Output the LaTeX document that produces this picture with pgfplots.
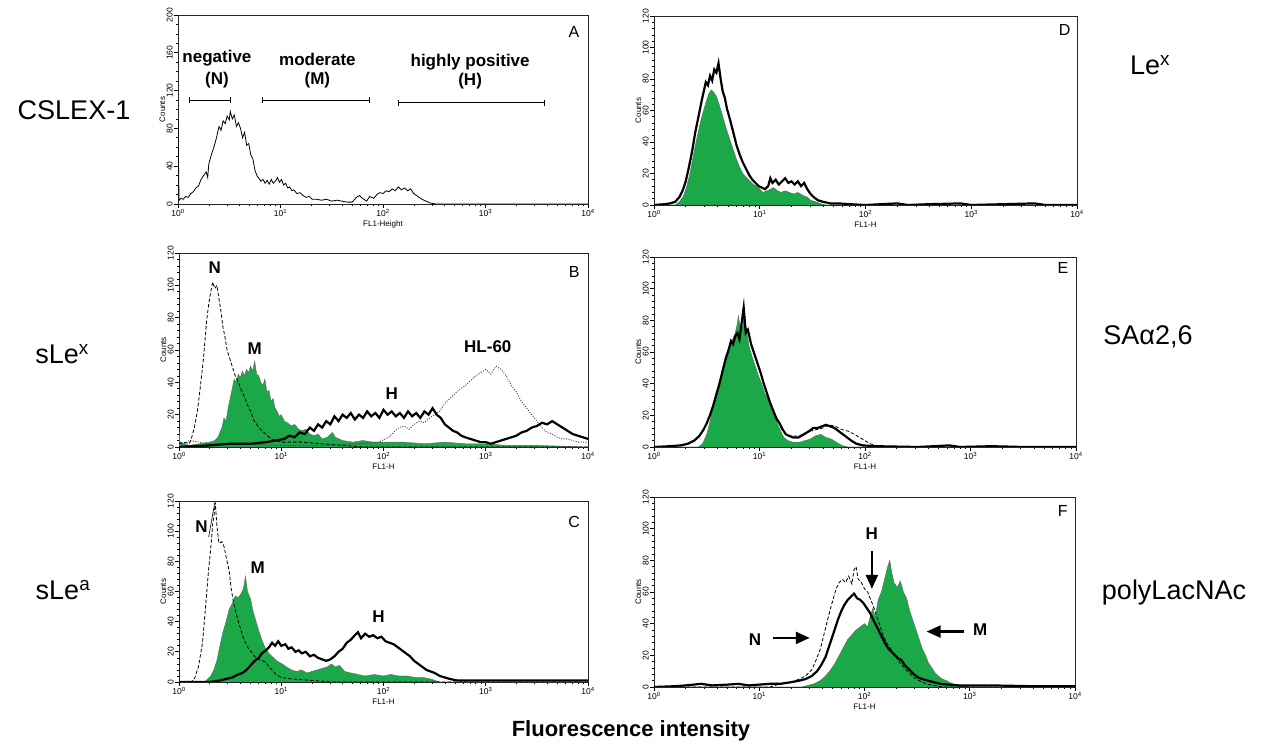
\documentclass[border=0pt]{standalone}
\usepackage{pgfplots}
\pgfplotsset{compat=1.18}
\usepackage{fontspec}
\setmainfont{Liberation Sans}
\usetikzlibrary{arrows.meta}
\definecolor{facsgreen}{RGB}{26,168,72}
\newcommand\fs[1]{\fontsize{#1}{#1}\selectfont}
\tikzset{
  ann/.style={font=\bfseries\fs{17}},
  pl/.style={font=\fs{16}},
}
\pgfplotsset{
  facs/.style={
    scale only axis, xmin=0, xmax=4, ymin=0, ymax=120,
    axis line style={black!85, line width=0.8pt},
    xtick={0,1,2,3,4},
    xticklabels={10\textsuperscript{0},10\textsuperscript{1},10\textsuperscript{2},10\textsuperscript{3},10\textsuperscript{4}},
    minor xtick={0.301,0.477,0.602,0.699,0.778,0.845,0.903,0.954,
                 1.301,1.477,1.602,1.699,1.778,1.845,1.903,1.954,
                 2.301,2.477,2.602,2.699,2.778,2.845,2.903,2.954,
                 3.301,3.477,3.602,3.699,3.778,3.845,3.903,3.954},
    ytick={0,20,...,120}, minor y tick num=4,
    tick align=outside, tick pos=left,
    major tick length=4pt, minor tick length=2pt,
    every tick/.style={black, line width=0.7pt},
    tick label style={font=\fs{8.5}, /pgf/number format/assume math mode=true},
    yticklabel style={rotate=90, anchor=south, inner sep=1pt},
    xticklabel style={inner sep=1pt},
    ylabel={Counts}, xlabel={FL1-H},
    label style={font=\fs{8}},
    ylabel style={yshift=-3pt}, xlabel style={yshift=0pt},
  },
  grn/.style={draw=black!60, line width=0.4pt, fill=facsgreen},
  thk/.style={black, line width=2.2pt},
  thn/.style={black, line width=0.8pt},
  dsh/.style={black, line width=0.8pt, dash pattern=on 3.5pt off 2pt},
  dtt/.style={black!75, line width=0.9pt, dash pattern=on 1pt off 1.5pt},
}
\begin{document}
\begin{tikzpicture}[x=1pt,y=1pt]
\path[use as bounding box] (0,0) rectangle (1268,751);

% row labels
\node[font=\fs{27}] at (74,641) {CSLEX-1};
\node[font=\fs{27}] at (62,397) {sLe\textsuperscript{x}};
\node[font=\fs{27}] at (63,161) {sLe\textsuperscript{a}};
\node[font=\fs{27}] at (1150,686) {Le\textsuperscript{x}};
\node[font=\fs{27}] at (1148,414) {SAα2,6};
\node[font=\fs{27}] at (1174,158) {polyLacNAc};
\node[font=\bfseries\fs{22}] at (631,20) {Fluorescence intensity};

% A
\begin{axis}[facs, at={(178pt,547pt)}, width=410pt, height=189pt,
  ymax=200, ytick={0,40,...,200}, minor y tick num=3, xlabel={FL1-Height}]
\addplot[thn] coordinates {
(0,88) (0.01,4) (0.03,6) (0.05,5) (0.075,8) (0.10,7) (0.125,11) (0.15,13) (0.175,17)
(0.20,19) (0.225,26) (0.25,30) (0.275,34) (0.29,28) (0.30,42) (0.325,52) (0.35,60)
(0.375,70) (0.40,82) (0.42,78) (0.44,88) (0.46,85) (0.48,93) (0.50,89) (0.51,98)
(0.53,90) (0.55,94) (0.57,82) (0.59,86) (0.61,80) (0.63,70) (0.65,76) (0.67,62)
(0.69,64) (0.71,52) (0.73,48) (0.75,36) (0.77,30) (0.79,27) (0.81,24) (0.83,26)
(0.85,22) (0.87,25) (0.89,21) (0.91,26) (0.93,22) (0.95,24) (0.97,28) (0.99,23)
(1.01,26) (1.03,20) (1.05,22) (1.07,17) (1.09,18) (1.11,14) (1.13,15) (1.16,11)
(1.19,12) (1.22,9) (1.25,7) (1.28,8) (1.31,5) (1.35,5) (1.40,4) (1.45,5) (1.50,3)
(1.55,4) (1.60,3) (1.65,2) (1.70,2) (1.74,7) (1.77,9) (1.80,6) (1.84,3) (1.87,8)
(1.91,6) (1.94,10) (1.97,12) (2.00,11) (2.03,14) (2.06,13) (2.09,16) (2.12,14)
(2.15,18) (2.18,15) (2.21,17) (2.24,14) (2.27,16) (2.30,11) (2.34,8) (2.38,5)
(2.42,3) (2.46,1) (2.52,0) (4.00,0)};
\draw[|-|, line width=0.8pt] (axis cs:0.107,110) -- (axis cs:0.517,110);
\draw[|-|, line width=0.8pt] (axis cs:0.82,110) -- (axis cs:1.87,110);
\draw[|-|, line width=0.8pt] (axis cs:2.15,107) -- (axis cs:3.58,107);
\node[ann] at (axis cs:0.38,154) {negative};
\node[ann] at (axis cs:0.38,131) {(N)};
\node[ann] at (axis cs:1.36,153) {moderate};
\node[ann] at (axis cs:1.36,131) {(M)};
\node[ann] at (axis cs:2.85,150) {highly positive};
\node[ann] at (axis cs:2.85,130) {(H)};
\node[pl] at (rel axis cs:0.966,0.91) {A};
\end{axis}

% B
\begin{axis}[facs, at={(179pt,304pt)}, width=409pt, height=194pt]
\addplot[grn] coordinates {
(0,10) (0.01,3) (0.05,2) (0.1,1) (0.2,2) (0.3,3) (0.35,4) (0.38,6) (0.40,9) (0.42,12)
(0.44,18) (0.46,16) (0.48,24) (0.50,30) (0.52,36) (0.54,42) (0.56,40) (0.58,45)
(0.60,43) (0.62,47) (0.64,44) (0.66,48) (0.68,46) (0.70,50) (0.72,47) (0.74,53)
(0.76,45) (0.78,44) (0.80,40) (0.82,38) (0.84,42) (0.86,34) (0.88,35) (0.90,28)
(0.92,30) (0.94,24) (0.96,22) (0.98,19) (1.00,20) (1.03,16) (1.06,15) (1.10,13)
(1.13,14) (1.17,11) (1.20,10) (1.24,11) (1.28,8) (1.32,7) (1.36,8) (1.40,5) (1.45,6)
(1.50,9) (1.53,6) (1.60,4) (1.70,3) (1.80,4) (1.90,3) (2.0,3) (2.2,3) (2.4,2) (2.6,3)
(2.8,2) (3.0,2) (3.2,1) (3.5,1) (4.0,0)} \closedcycle;
\addplot[dtt] coordinates {
(0,3) (0.05,2) (0.1,4) (0.2,3) (0.3,2) (0.5,2) (1,1) (1.5,1) (1.8,2) (1.95,3)
(2.05,6) (2.1,9) (2.15,12) (2.2,13) (2.25,11) (2.3,14) (2.35,16) (2.40,15) (2.45,18)
(2.50,20) (2.55,22) (2.60,27) (2.65,30) (2.70,33) (2.75,36) (2.80,38) (2.85,41)
(2.90,44) (2.95,46) (3.00,48) (3.05,45) (3.10,50) (3.15,48) (3.20,44) (3.25,38)
(3.30,34) (3.35,28) (3.40,24) (3.45,20) (3.50,16) (3.55,12) (3.60,9) (3.65,8)
(3.70,6) (3.75,5) (3.80,5) (3.85,4) (3.90,3) (4,3)};
\addplot[dsh] coordinates {
(0,2) (0.05,3) (0.10,2) (0.12,5) (0.15,12) (0.18,22) (0.21,38) (0.24,55) (0.27,78)
(0.29,88) (0.31,96) (0.33,102) (0.35,98) (0.37,100) (0.39,92) (0.41,84) (0.43,74)
(0.45,68) (0.47,60) (0.49,56) (0.52,50) (0.55,44) (0.58,40) (0.61,35) (0.64,31)
(0.67,26) (0.70,22) (0.73,17) (0.77,13) (0.81,10) (0.85,8) (0.90,5) (0.95,4)
(1.0,3) (1.2,3) (1.4,2) (1.6,1) (1.8,0) (4,0)};
\addplot[thk] coordinates {
(0,0) (0.3,1) (0.5,2) (0.7,2) (0.85,3) (0.95,4) (1.03,5) (1.08,7) (1.13,6) (1.18,9)
(1.23,8) (1.28,12) (1.32,10) (1.36,14) (1.40,12) (1.44,16) (1.48,14) (1.52,19)
(1.56,16) (1.60,20) (1.64,18) (1.68,21) (1.72,17) (1.76,20) (1.80,18) (1.84,22)
(1.88,19) (1.92,21) (1.96,18) (2.00,23) (2.04,20) (2.08,22) (2.12,19) (2.16,21)
(2.20,18) (2.24,22) (2.28,19) (2.32,21) (2.36,18) (2.40,22) (2.44,20) (2.48,24)
(2.52,20) (2.56,18) (2.60,14) (2.64,12) (2.68,10) (2.72,9) (2.76,7) (2.80,6)
(2.85,5) (2.90,4) (2.95,3) (3.00,3) (3.05,2) (3.10,3) (3.15,4) (3.20,5) (3.25,6)
(3.30,7) (3.35,9) (3.40,10) (3.45,12) (3.50,13) (3.55,15) (3.60,14) (3.65,16)
(3.70,14) (3.75,12) (3.80,10) (3.85,8) (3.90,7) (3.95,6) (4.00,5)};
\node[ann] at (axis cs:0.35,111) {N};
\node[ann] at (axis cs:0.74,61) {M};
\node[ann] at (axis cs:2.08,33) {H};
\node[ann] at (axis cs:3.02,62) {HL-60};
\node[pl] at (rel axis cs:0.966,0.9) {B};
\end{axis}

% C
\begin{axis}[facs, at={(179pt,69pt)}, width=409pt, height=181pt]
\addplot[grn] coordinates {
(0,0) (0.25,0) (0.28,2) (0.31,4) (0.34,8) (0.37,14) (0.40,24) (0.43,33) (0.46,40)
(0.49,48) (0.52,52) (0.55,57) (0.58,56) (0.61,59) (0.63,62) (0.65,70) (0.67,60)
(0.70,55) (0.72,48) (0.75,41) (0.78,34) (0.81,28) (0.84,23) (0.88,19) (0.91,17)
(0.94,15) (0.98,13) (1.01,12) (1.05,10) (1.10,8) (1.15,7) (1.20,8) (1.25,6)
(1.30,7) (1.35,8) (1.40,9) (1.45,10) (1.49,12) (1.53,10) (1.57,11) (1.62,7)
(1.68,6) (1.75,5) (1.82,4) (1.91,5) (2.00,4) (2.07,5) (2.15,4) (2.23,4) (2.31,3)
(2.39,3) (2.46,2) (2.55,0) (4,0)} \closedcycle;
\addplot[dsh] coordinates {
(0,0) (0.12,0) (0.15,2) (0.19,10) (0.23,26) (0.26,50) (0.29,75) (0.31,88) (0.33,105)
(0.345,112) (0.355,119) (0.37,104) (0.39,92) (0.42,93) (0.44,90) (0.47,80) (0.49,74)
(0.51,62) (0.53,54) (0.56,45) (0.59,38) (0.62,31) (0.65,26) (0.68,22) (0.72,19)
(0.75,16) (0.78,15) (0.82,14) (0.85,13) (0.88,10) (0.91,8) (0.95,5) (1.0,3)
(1.1,2) (1.3,1) (1.5,0) (4,0)};
\addplot[thk] coordinates {
(0,0) (0.3,0) (0.4,1) (0.46,2) (0.52,3) (0.58,5) (0.62,6) (0.66,8) (0.70,11)
(0.74,14) (0.78,16) (0.81,19) (0.85,21) (0.88,23) (0.91,26) (0.94,24) (0.97,27)
(1.00,24) (1.04,25) (1.07,22) (1.10,23) (1.14,20) (1.17,21) (1.20,19) (1.24,20)
(1.28,17) (1.32,18) (1.36,16) (1.40,15) (1.44,14) (1.48,15) (1.52,17) (1.56,20)
(1.60,22) (1.64,26) (1.68,28) (1.72,31) (1.75,33) (1.78,29) (1.82,32) (1.86,30)
(1.90,31) (1.94,29) (1.98,30) (2.02,27) (2.06,26) (2.10,25) (2.14,23) (2.18,21)
(2.22,19) (2.26,17) (2.30,14) (2.34,12) (2.38,10) (2.42,8) (2.46,7) (2.50,6)
(2.55,4) (2.60,3) (2.65,2) (2.72,1) (3.0,1) (3.5,1) (4,1)};
\draw[black, line width=0.6pt] (axis cs:0.29,96) -- (axis cs:0.35,119);
\node[ann] at (axis cs:0.22,103) {N};
\node[ann] at (axis cs:0.77,76) {M};
\node[ann] at (axis cs:1.95,43) {H};
\node[pl] at (rel axis cs:0.966,0.885) {C};
\end{axis}

% D
\begin{axis}[facs, at={(654pt,546pt)}, width=423pt, height=189pt]
\addplot[grn] coordinates {
(0,0) (0.20,0) (0.24,2) (0.28,6) (0.31,12) (0.34,20) (0.37,31) (0.40,41) (0.43,50)
(0.46,58) (0.49,65) (0.52,71) (0.54,73) (0.56,72) (0.59,69) (0.62,63) (0.66,54)
(0.69,47) (0.72,41) (0.75,35) (0.78,29) (0.81,24) (0.84,20) (0.88,17) (0.91,15)
(0.94,13) (0.97,12) (1.00,10) (1.03,8) (1.07,9) (1.10,10) (1.13,11) (1.17,9)
(1.20,8) (1.24,9) (1.28,8) (1.32,7) (1.36,8) (1.41,6) (1.45,5) (1.48,3) (1.53,2)
(1.57,1) (1.62,0) (4,0)} \closedcycle;
\addplot[thk] coordinates {
(0,0) (0.10,0.5) (0.15,1) (0.20,2) (0.24,5) (0.27,9) (0.30,15) (0.33,24) (0.36,34)
(0.39,46) (0.42,56) (0.45,66) (0.47,72) (0.49,78) (0.51,76) (0.53,82) (0.55,79)
(0.57,86) (0.59,84) (0.61,90) (0.63,80) (0.65,72) (0.67,68) (0.69,61) (0.72,54)
(0.75,46) (0.78,38) (0.81,32) (0.84,27) (0.87,23) (0.90,19) (0.93,16) (0.96,14)
(0.99,12) (1.02,11) (1.05,10) (1.08,12) (1.10,17) (1.12,14) (1.15,16) (1.18,13)
(1.21,15) (1.24,17) (1.27,14) (1.30,15) (1.33,13) (1.36,15) (1.39,12) (1.42,14)
(1.45,10) (1.48,7) (1.51,5) (1.55,3) (1.60,2) (1.67,1) (1.75,1) (1.85,0.5) (2.0,0)
(2.3,1) (2.4,0) (2.6,0.5) (2.9,1) (3.0,0) (3.3,0.5) (3.6,1) (3.7,0) (4,0)};
\node[pl] at (rel axis cs:0.971,0.925) {D};
\end{axis}

% E
\begin{axis}[facs, at={(654pt,304pt)}, width=422pt, height=190pt]
\addplot[grn] coordinates {
(0,0) (0.42,0) (0.46,2) (0.50,8) (0.53,16) (0.56,26) (0.59,34) (0.62,41) (0.65,49)
(0.68,57) (0.71,62) (0.74,67) (0.77,72) (0.79,78) (0.80,83) (0.82,74) (0.84,76)
(0.86,83) (0.88,72) (0.90,64) (0.93,57) (0.96,51) (0.99,45) (1.02,40) (1.05,34)
(1.08,30) (1.11,25) (1.14,20) (1.17,15) (1.20,10) (1.23,6) (1.27,4) (1.32,3)
(1.38,3) (1.43,4) (1.48,5) (1.53,7) (1.58,8) (1.63,6) (1.68,5) (1.73,3) (1.78,1)
(1.84,0) (4,0)} \closedcycle;
\addplot[dsh] coordinates {
(1.20,12) (1.25,8) (1.30,7) (1.36,7) (1.42,8) (1.48,10) (1.54,11) (1.60,12)
(1.66,14) (1.72,13) (1.78,11) (1.84,10) (1.90,8) (1.95,6) (2.00,4) (2.05,2)
(2.10,1) (2.20,0)};
\addplot[thk] coordinates {
(0,0) (0.15,0.5) (0.25,1) (0.32,2) (0.38,4) (0.43,7) (0.47,11) (0.50,15) (0.53,20)
(0.56,26) (0.59,33) (0.62,40) (0.65,48) (0.68,56) (0.71,62) (0.73,67) (0.75,65)
(0.77,70) (0.79,72) (0.81,68) (0.83,78) (0.85,88) (0.87,72) (0.89,74) (0.92,65)
(0.95,59) (0.98,53) (1.01,47) (1.04,40) (1.07,34) (1.10,28) (1.13,23) (1.16,18)
(1.19,15) (1.22,11) (1.25,8) (1.28,7) (1.32,6) (1.37,6) (1.42,8) (1.47,10)
(1.51,12) (1.55,12) (1.59,13) (1.63,14) (1.67,13) (1.71,12) (1.75,10) (1.79,8)
(1.83,6) (1.87,4) (1.92,2) (1.98,1) (2.1,0.5) (2.5,0) (2.8,1) (2.9,0) (3.2,0.5)
(3.5,0) (4,0)};
\node[pl] at (rel axis cs:0.969,0.94) {E};
\end{axis}

% F
\begin{axis}[facs, at={(654pt,64pt)}, width=421pt, height=190pt]
\addplot[grn] coordinates {
(0,0) (1.40,0) (1.46,1) (1.52,2) (1.58,4) (1.63,7) (1.68,11) (1.72,15) (1.76,20)
(1.80,25) (1.84,30) (1.88,33) (1.92,36) (1.96,38) (2.00,40) (2.03,38) (2.06,46)
(2.08,50) (2.10,44) (2.13,55) (2.16,60) (2.19,68) (2.22,76) (2.24,80) (2.26,72)
(2.28,66) (2.31,63) (2.34,67) (2.37,60) (2.40,56) (2.43,48) (2.46,42) (2.49,36)
(2.52,30) (2.55,24) (2.58,20) (2.61,15) (2.64,12) (2.67,9) (2.70,7) (2.74,5)
(2.78,4) (2.82,2.5) (2.87,1.5) (2.93,1) (3.0,0) (4,0)} \closedcycle;
\addplot[dsh] coordinates {
(0,0) (1.1,0) (1.2,2) (1.3,3) (1.38,5) (1.44,7) (1.50,11) (1.54,17) (1.58,24)
(1.61,32) (1.64,40) (1.67,48) (1.70,55) (1.73,62) (1.76,66) (1.79,68) (1.82,66)
(1.85,70) (1.88,65) (1.90,74) (1.92,76) (1.94,68) (1.97,66) (2.00,62) (2.03,60)
(2.06,55) (2.09,50) (2.12,44) (2.15,38) (2.18,32) (2.22,27) (2.26,23) (2.30,19)
(2.34,15) (2.38,12) (2.42,9) (2.47,6) (2.52,4) (2.58,2) (2.65,1) (2.75,0) (4,0)};
\addplot[thk] coordinates {
(0,0) (0.2,0.5) (0.3,1) (0.45,2) (0.55,1) (0.7,1.5) (0.8,2) (0.9,1) (1.0,1.5)
(1.1,2) (1.2,2) (1.3,3) (1.38,4) (1.44,5) (1.50,7) (1.55,10) (1.59,14) (1.63,19)
(1.66,25) (1.69,31) (1.72,37) (1.75,43) (1.78,48) (1.81,52) (1.84,55) (1.87,57)
(1.90,59) (1.93,56) (1.96,55) (1.99,53) (2.02,50) (2.05,47) (2.08,43) (2.11,39)
(2.14,35) (2.17,31) (2.20,27) (2.23,24) (2.26,22) (2.29,20) (2.32,18) (2.35,17)
(2.38,14) (2.41,12) (2.44,10) (2.47,8) (2.51,6) (2.55,5) (2.60,4) (2.66,3)
(2.72,2) (2.80,1.5) (2.9,1) (3.2,1) (3.6,0.5) (4,0.5)};
\draw[-{Triangle[length=14pt,width=12pt]}, line width=2.4pt] (axis cs:1.13,31) -- (axis cs:1.48,31);
\draw[-{Triangle[length=14pt,width=12pt]}, line width=2.4pt] (axis cs:2.95,35) -- (axis cs:2.59,35);
\draw[-{Triangle[length=14pt,width=12pt]}, line width=2.4pt] (axis cs:2.07,86) -- (axis cs:2.07,62);
\node[ann] at (axis cs:0.96,30) {N};
\node[ann] at (axis cs:3.10,36) {M};
\node[ann] at (axis cs:2.07,97) {H};
\node[pl] at (rel axis cs:0.971,0.925) {F};
\end{axis}
\end{tikzpicture}
\end{document}
